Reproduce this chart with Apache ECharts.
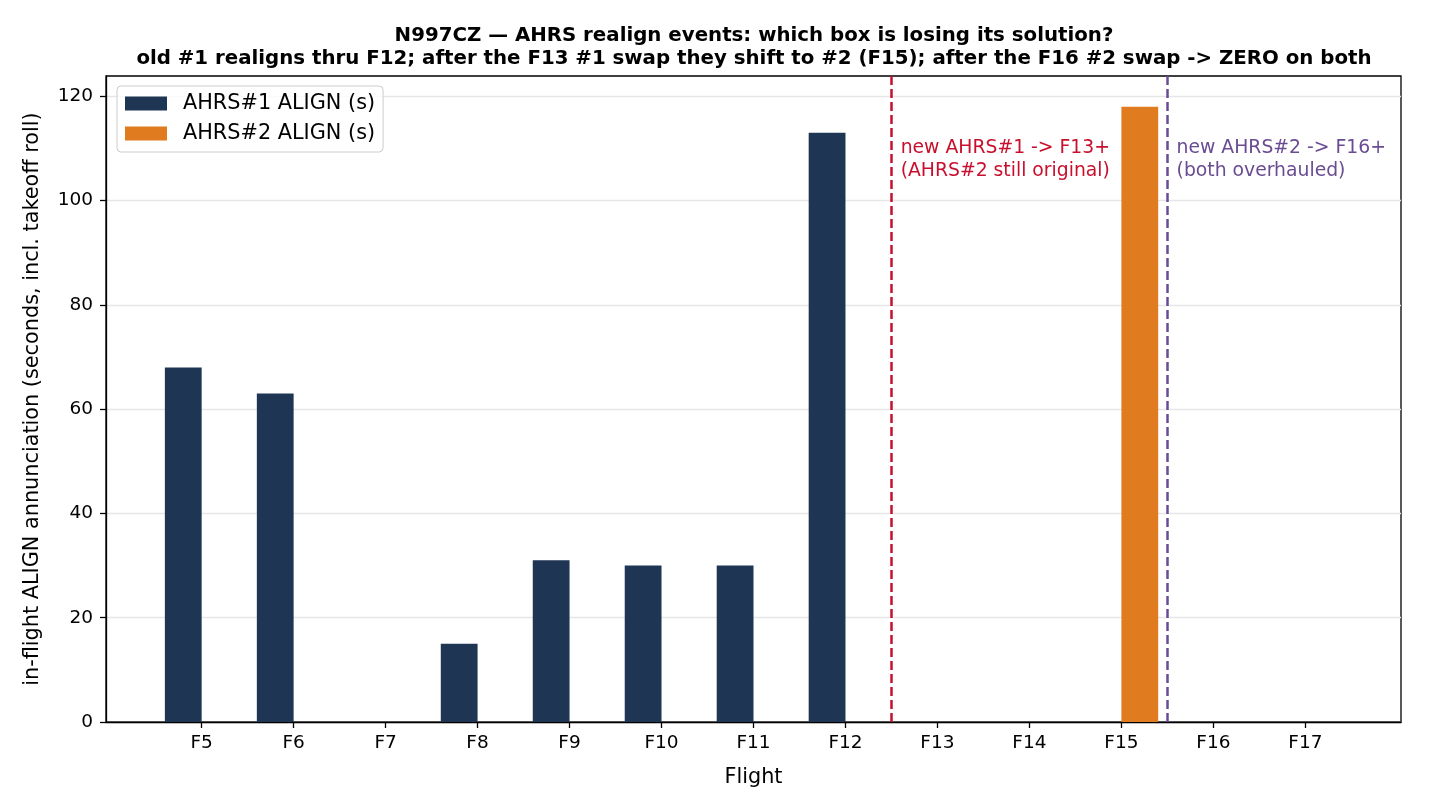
<!DOCTYPE html>
<html>
<head>
<meta charset="utf-8">
<script src="https://cdn.jsdelivr.net/npm/echarts@6/dist/echarts.min.js"></script>
<style>
html,body{margin:0;padding:0;background:#fff;}
#chart{width:1440px;height:810px;}
</style>
</head>
<body>
<div id="chart"></div>
<script>
const flights = ['F5','F6','F7','F8','F9','F10','F11','F12','F13','F14','F15','F16','F17'];
const ahrs1 = [68, 63, 0, 15, 31, 30, 30, 113, 0, 0, 0, 0, 0];
const ahrs2 = [0, 0, 0, 0, 0, 0, 0, 0, 0, 0, 118, 0, 0];
const yTicks = [0, 20, 40, 60, 80, 100, 120];
const swapLines = [
  {x: 7.5, color: '#c8102e', text: 'new AHRS#1 -> F13+\n(AHRS#2 still original)'},
  {x: 10.5, color: '#6a4c93', text: 'new AHRS#2 -> F16+\n(both overhauled)'}
];
const annotY = 112.3;
const titleText = 'N997CZ \u2014 AHRS realign events: which box is losing its solution?\nold #1 realigns thru F12; after the F13 #1 swap they shift to #2 (F15); after the F16 #2 swap -> ZERO on both';

const FONT = 'DejaVu Sans';
const barW = 0.4;
const xMin = -0.4 - 0.64, xMax = 12.4 + 0.64;
const yMax = Math.max(...ahrs1, ...ahrs2) * 1.05;

function barRender(offset, color) {
  return function (params, api) {
    const i = api.value(0), v = api.value(1);
    if (!v) return null;
    const p0 = api.coord([i + offset, 0]);
    const p1 = api.coord([i + offset + barW, v]);
    return {
      type: 'rect',
      shape: {x: p0[0], y: p1[1], width: p1[0] - p0[0], height: p0[1] - p1[1]},
      style: {fill: color}
    };
  };
}

const chart = echarts.init(document.getElementById('chart'), null, {renderer: 'canvas'});
chart.setOption({
  animation: false,
  backgroundColor: '#ffffff',
  title: {
    text: titleText,
    left: 749, top: 19, textAlign: 'center',
    textStyle: {fontFamily: FONT, fontWeight: 'bold', fontSize: 19.8, lineHeight: 23, color: '#000'}
  },
  legend: {
    orient: 'vertical', left: 117, top: 86,
    padding: [7, 8, 8, 8],
    itemWidth: 42, itemHeight: 14, itemGap: 9,
    backgroundColor: 'rgba(255,255,255,0.8)', borderColor: '#cccccc', borderWidth: 1, borderRadius: 4,
    textStyle: {fontFamily: FONT, fontSize: 20.8, color: '#000', padding: [0, 0, 0, 11]},
    data: [
      {name: 'AHRS#1 ALIGN (s)', icon: 'rect'},
      {name: 'AHRS#2 ALIGN (s)', icon: 'rect'}
    ]
  },
  grid: {left: 106, right: 39, top: 76, bottom: 88, show: true, borderColor: '#000', borderWidth: 1.3, backgroundColor: 'transparent'},
  xAxis: {
    type: 'value', min: xMin, max: xMax,
    name: 'Flight', nameLocation: 'middle', nameGap: 45,
    nameTextStyle: {fontFamily: FONT, fontSize: 20.8, color: '#000'},
    axisLine: {show: true, onZero: false, lineStyle: {color: '#000', width: 1.3}},
    axisTick: {show: true, length: 6, lineStyle: {color: '#000', width: 1.3}, customValues: flights.map((f, i) => i)},
    axisLabel: {
      fontFamily: FONT, fontSize: 18.5, color: '#000', margin: 12,
      customValues: flights.map((f, i) => i),
      formatter: v => flights[Math.round(v)] || ''
    },
    splitLine: {show: false}
  },
  yAxis: {
    type: 'value', min: 0, max: yMax, interval: 20,
    name: 'in-flight ALIGN annunciation (seconds, incl. takeoff roll)', nameLocation: 'middle', nameGap: 63,
    nameTextStyle: {fontFamily: FONT, fontSize: 20.8, color: '#000'},
    axisLine: {show: true, onZero: false, lineStyle: {color: '#000', width: 1.3}},
    axisTick: {show: true, length: 6, lineStyle: {color: '#000', width: 1.3}, customValues: yTicks},
    axisLabel: {fontFamily: FONT, fontSize: 18.5, color: '#000', margin: 13, customValues: yTicks, showMaxLabel: true},
    splitLine: {show: true, lineStyle: {color: '#e6e6e6', width: 1.3}}
  },
  series: [
    {
      name: 'AHRS#1 ALIGN (s)', type: 'custom', color: '#1f3554',
      renderItem: barRender(-barW, '#1f3554'),
      data: ahrs1.map((v, i) => [i, v]),
      encode: {x: 0, y: 1}, z: 2
    },
    {
      name: 'AHRS#2 ALIGN (s)', type: 'custom', color: '#e07b20',
      renderItem: barRender(0, '#e07b20'),
      data: ahrs2.map((v, i) => [i, v]),
      encode: {x: 0, y: 1}, z: 2,
      markLine: {
        silent: true, symbol: 'none', animation: false,
        label: {show: false},
        data: swapLines.map(s => ({xAxis: s.x, lineStyle: {color: s.color, width: 2.5, type: [9, 4]}}))
      }
    },
    {
      name: 'annotations', type: 'custom', silent: true, z: 5,
      renderItem: function (params, api) {
        const s = swapLines[params.dataIndex];
        const p = api.coord([s.x + 0.1, annotY]);
        return {
          type: 'text', x: p[0], y: p[1],
          style: {text: s.text, fill: s.color, font: '18.8px "DejaVu Sans"', lineHeight: 23, align: 'left', verticalAlign: 'top'}
        };
      },
      data: swapLines.map(s => [s.x, annotY]),
      encode: {x: 0, y: 1}
    }
  ]
});
</script>
</body>
</html>
